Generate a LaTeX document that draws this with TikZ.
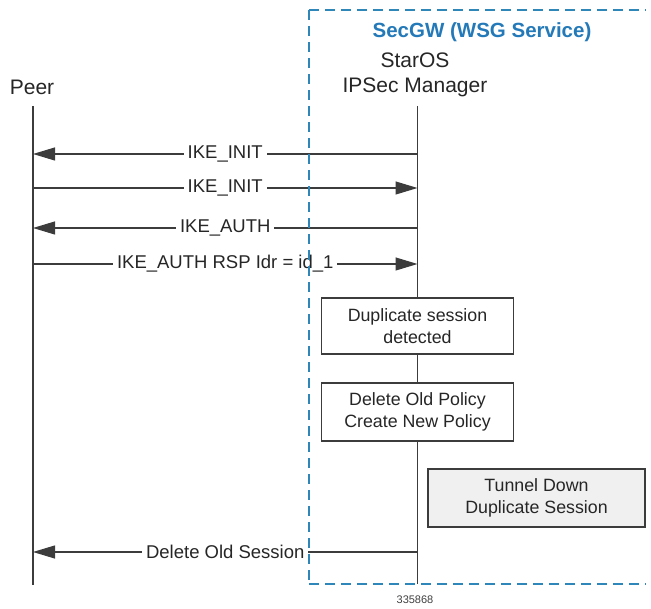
\documentclass[tikz,border=0pt]{standalone}
\usepackage{fontspec}
\setmainfont{Liberation Sans}
\usetikzlibrary{arrows.meta}
\definecolor{lifegray}{HTML}{3C3C3C}
\definecolor{secblue}{HTML}{2F86B8}
\definecolor{titleblue}{HTML}{2479B8}
\definecolor{boxgray}{HTML}{F0F0F0}
\tikzset{
  msg/.style={draw=lifegray, line width=1.1pt, -{Triangle[length=22pt,width=13pt]}},
  lbl/.style={fill=white, inner xsep=4pt, inner ysep=1pt, font=\fontsize{18.5}{22}\selectfont, text=black!85},
  life/.style={draw=lifegray, line width=1.1pt},
  actbox/.style={draw=lifegray, line width=1.1pt, fill=white, align=center, inner sep=0pt,
     font=\fontsize{17.8}{22.5}\selectfont, text=black!85},
  hdr/.style={font=\fontsize{21}{25}\selectfont, text=black!85, align=center, inner sep=0pt},
  secbox/.style={draw=secblue, line width=1.5pt, dash pattern=on 10pt off 6pt}
}
\begin{document}
\begin{tikzpicture}[x=1pt,y=-1pt]
\useasboundingbox (0,0) rectangle (651,609);
\node[font=\bfseries\fontsize{20.5}{24}\selectfont, text=titleblue, inner sep=0pt] (title) at (482,32) {SecGW (WSG Service)};
% headers
\node[hdr] (peer) at (32,87) {Peer};
\node[hdr] (mgr) at (415,74.5) {StarOS\\IPSec Manager};
% lifeline endpoints
\coordinate (ptop) at (33,106);
\coordinate (pbot) at (33,585);
\coordinate (mtop) at (417.5,106);
\coordinate (mbot) at (417.5,584);
% boxes
\node[actbox, minimum width=192pt, minimum height=56pt] (dup) at (417.5,326) {Duplicate session\\detected};
\node[actbox, minimum width=192pt, minimum height=58pt] (pol) at (417.5,412) {Delete Old Policy\\Create New Policy};
\node[actbox, fill=boxgray, minimum width=217pt, minimum height=58pt] (tun) at (536.5,498) {Tunnel Down\\Duplicate Session};
% lifelines
\draw[life] (ptop) -- (pbot);
\draw[life] (mtop) -- (dup.north);
\draw[life] (dup.south) -- (pol.north);
\draw[life] (pol.south) -- (mbot);
% message coordinates
\coordinate (p1) at (33,154);  \coordinate (m1) at (417.5,154);
\coordinate (p2) at (33,188);  \coordinate (m2) at (417.5,188);
\coordinate (p3) at (33,228);  \coordinate (m3) at (417.5,228);
\coordinate (p4) at (33,264);  \coordinate (m4) at (417.5,264);
\coordinate (p5) at (33,552);  \coordinate (m5) at (417.5,552);
% messages
\draw[msg] (m1) -- node[lbl] (l1) {IKE\_INIT} (p1);
\draw[msg] (p2) -- node[lbl] (l2) {IKE\_INIT} (m2);
\draw[msg] (m3) -- node[lbl] (l3) {IKE\_AUTH} (p3);
\draw[msg] (p4) -- node[lbl] (l4) {IKE\_AUTH RSP Idr = id\_1} (m4);
\draw[msg] (m5) -- node[lbl] (l5) {Delete Old Session} (p5);
% SecGW dashed region (its right side lies beyond the picture), drawn over the labels
\coordinate (sgtl) at (309,10);
\coordinate (sgbl) at (309,584);
\coordinate (sgtr) at (646,10);
\coordinate (sgbr) at (646,584);
\draw[secbox] (sgtl) -- (sgtr);
\draw[secbox] (sgtl) -- (sgbl);
\draw[secbox] (sgbl) -- (sgbr);
% figure number
\node[font=\fontsize{11}{13}\selectfont, text=black!75, inner sep=0pt] (fig) at (415,600) {335868};
\end{tikzpicture}
\end{document}
